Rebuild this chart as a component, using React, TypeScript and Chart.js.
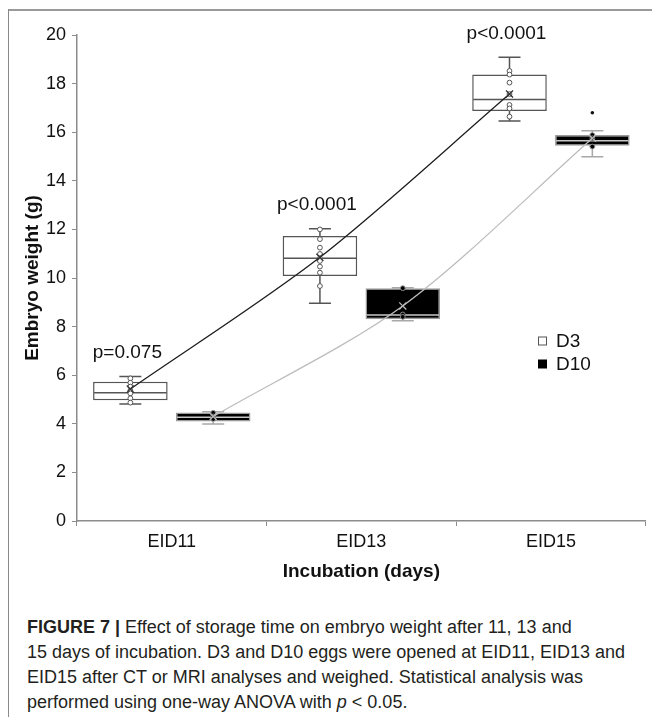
import React, { useEffect, useRef } from 'react';
import { Chart, registerables } from 'chart.js';
Chart.register(...registerables);

// ---------------- data ----------------
const categories = ['EID11', 'EID13', 'EID15'];
const seriesNames = ['D3', 'D10'];
const yMin = 0;
const yMax = 20;
const yStep = 2;

const d3Min = [4.81, 8.96, 16.46];
const d3Q1 = [4.97, 10.08, 16.87];
const d3Median = [5.28, 10.81, 17.35];
const d3Q3 = [5.73, 11.73, 18.37];
const d3Max = [5.95, 12.03, 19.08];
const d3Mean = [5.43, 10.85, 17.57];
const d3Points = [
  [5.87, 5.69, 5.53, 5.36, 5.25, 5.05, 4.87],
  [12.0, 11.6, 11.25, 10.99, 10.81, 10.7, 10.47, 10.22, 9.67],
  [18.52, 18.37, 18.04, 17.57, 17.12, 16.98, 16.64],
];

const d10Min = [3.99, 8.24, 14.99];
const d10Q1 = [4.09, 8.3, 15.44];
const d10Median = [4.27, 8.48, 15.65];
const d10Q3 = [4.46, 9.58, 15.88];
const d10Max = [4.5, 9.6, 16.06];
const d10Mean = [4.3, 8.85, 15.75];
const d10Points = [
  [4.45, 4.3, 4.2],
  [9.58, 8.5, 8.4],
  [15.88, 15.75, 15.41],
];
const d10Outliers = [[], [], [16.8]];

const pLabels = ['p=0.075', 'p<0.0001', 'p<0.0001'];

const captionLines = [
  'Effect of storage time on embryo weight after 11, 13 and',
  '15 days of incubation. D3 and D10 eggs were opened at EID11, EID13 and',
  'EID15 after CT or MRI analyses and weighed. Statistical analysis was',
  'performed using one-way ANOVA with ',
];

// ---------------- style ----------------
const FONT = "'Liberation Sans', Arial, sans-serif";
const GROUP_OFF = 0.2185; // half-distance between the D3 and D10 boxes, in category units
const AXIS_COLOR = '#8c8c8c';

const pts = (arr: number[][], off: number) =>
  arr.flatMap((vals, i) => vals.map((v) => ({ x: i + off, y: v })));
const boxes = (q1: number[], q3: number[], off: number) =>
  q1.map((q, i) => ({ x: i + off, y: [q, q3[i]] }));

const boxPlugin = {
  id: 'boxExtras',
  afterDatasetDraw(chart: any, args: any) {
    const ds = chart.data.datasets[args.index] as any;
    if (!ds.stats) return;
    const y = chart.scales.y;
    const ctx = chart.ctx;
    const cap = 22;
    ctx.save();
    args.meta.data.forEach((bar: any, i: number) => {
      const x = bar.x;
      const w = bar.width;
      const pMin = y.getPixelForValue(ds.stats.min[i]);
      const pMax = y.getPixelForValue(ds.stats.max[i]);
      const pQ1 = y.getPixelForValue(ds.stats.q1[i]);
      const pQ3 = y.getPixelForValue(ds.stats.q3[i]);
      const pMed = y.getPixelForValue(ds.stats.median[i]);
      ctx.strokeStyle = ds.whiskerColor;
      ctx.lineWidth = 1.5;
      ctx.beginPath();
      ctx.moveTo(x, pQ3);
      ctx.lineTo(x, pMax);
      ctx.moveTo(x - cap / 2, pMax);
      ctx.lineTo(x + cap / 2, pMax);
      ctx.moveTo(x, pQ1);
      ctx.lineTo(x, pMin);
      ctx.moveTo(x - cap / 2, pMin);
      ctx.lineTo(x + cap / 2, pMin);
      ctx.stroke();
      ctx.strokeStyle = ds.medianColor;
      ctx.beginPath();
      ctx.moveTo(x - w / 2 + 1, pMed);
      ctx.lineTo(x + w / 2 - 1, pMed);
      ctx.stroke();
    });
    ctx.restore();
  },
};

const overlayPlugin = {
  id: 'overlay',
  afterDraw(chart: any) {
    const ctx = chart.ctx;
    const y = chart.scales.y;
    const meta = chart.getDatasetMeta(0);
    ctx.save();
    ctx.fillStyle = '#111';
    ctx.font = `19px ${FONT}`;
    ctx.textAlign = 'center';
    ctx.textBaseline = 'middle';
    meta.data.forEach((bar: any, i: number) => {
      ctx.fillText(pLabels[i], bar.x - 3, y.getPixelForValue(d3Max[i]) - 24);
    });
    // legend
    const lx = 538;
    const ly = [341, 364];
    ctx.textAlign = 'left';
    seriesNames.forEach((name, k) => {
      ctx.lineWidth = 1;
      if (k === 0) {
        ctx.fillStyle = '#fff';
        ctx.strokeStyle = '#555';
        ctx.fillRect(lx, ly[k] - 4.5, 9, 9);
        ctx.strokeRect(lx + 0.5, ly[k] - 4, 8, 8);
      } else {
        ctx.fillStyle = '#000';
        ctx.fillRect(lx, ly[k] - 4.5, 9, 9);
      }
      ctx.fillStyle = '#111';
      ctx.fillText(name, lx + 18, ly[k] + 1);
    });
    ctx.restore();
  },
};

function BoxChart() {
  const ref = useRef<HTMLCanvasElement | null>(null);
  useEffect(() => {
    if (!ref.current) return;
    const chart = new Chart(ref.current, {
      type: 'bar',
      data: {
        labels: categories,
        datasets: [
          {
            type: 'bar',
            label: seriesNames[0],
            xAxisID: 'xl',
            data: boxes(d3Q1, d3Q3, -GROUP_OFF),
            backgroundColor: '#ffffff',
            borderColor: '#555555',
            borderWidth: 1.5,
            borderSkipped: false,
            grouped: false,
            barPercentage: 0.9,
            categoryPercentage: 1,
            order: 10,
            stats: { min: d3Min, q1: d3Q1, median: d3Median, q3: d3Q3, max: d3Max },
            whiskerColor: '#555555',
            medianColor: '#555555',
          } as any,
          {
            type: 'bar',
            label: seriesNames[1],
            xAxisID: 'xl',
            data: boxes(d10Q1, d10Q3, GROUP_OFF),
            backgroundColor: '#000000',
            borderColor: '#9a9a9a',
            borderWidth: 1.5,
            borderSkipped: false,
            grouped: false,
            barPercentage: 0.9,
            categoryPercentage: 1,
            order: 10,
            stats: { min: d10Min, q1: d10Q1, median: d10Median, q3: d10Q3, max: d10Max },
            whiskerColor: '#a8a8a8',
            medianColor: '#c8c8c8',
          } as any,
          {
            type: 'line',
            label: 'D3 points',
            xAxisID: 'xl',
            data: pts(d3Points, -GROUP_OFF),
            showLine: false,
            pointStyle: 'circle',
            pointRadius: 2.4,
            pointBackgroundColor: '#ffffff',
            pointBorderColor: '#555555',
            pointBorderWidth: 1,
            order: 5,
          } as any,
          {
            type: 'line',
            label: 'D10 points',
            xAxisID: 'xl',
            data: pts(d10Points, GROUP_OFF),
            showLine: false,
            pointStyle: 'circle',
            pointRadius: 2.4,
            pointBackgroundColor: '#000000',
            pointBorderColor: '#8a8a8a',
            pointBorderWidth: 1,
            order: 5,
          } as any,
          {
            type: 'line',
            label: 'D10 outliers',
            xAxisID: 'xl',
            data: pts(d10Outliers, GROUP_OFF),
            showLine: false,
            pointStyle: 'circle',
            pointRadius: 1.8,
            pointBackgroundColor: '#111111',
            pointBorderColor: '#111111',
            pointBorderWidth: 0,
            order: 5,
          } as any,
          {
            type: 'line',
            label: 'D3 mean',
            xAxisID: 'xl',
            data: d3Mean.map((v, i) => ({ x: i - GROUP_OFF, y: v })),
            borderColor: '#1e1e1e',
            borderWidth: 1.3,
            tension: 0.3,
            pointStyle: 'crossRot',
            pointRadius: 5,
            pointBorderColor: '#333333',
            pointBorderWidth: 1.3,
            order: 1,
          } as any,
          {
            type: 'line',
            label: 'D10 mean',
            xAxisID: 'xl',
            data: d10Mean.map((v, i) => ({ x: i + GROUP_OFF, y: v })),
            borderColor: '#bdbdbd',
            borderWidth: 1.3,
            tension: 0.3,
            pointStyle: 'crossRot',
            pointRadius: 5,
            pointBorderColor: '#b5b5b5',
            pointBorderWidth: 1.3,
            order: 1,
          } as any,
        ],
      },
      options: {
        responsive: false,
        animation: false,
        devicePixelRatio: 1,
        layout: { padding: { top: 35, right: 5, left: 0, bottom: 0 } },
        plugins: {
          legend: { display: false },
          tooltip: { enabled: false },
        },
        scales: {
          x: {
            type: 'category',
            offset: true,
            grid: {
              offset: true,
              drawOnChartArea: false,
              drawTicks: true,
              tickLength: 5,
              color: AXIS_COLOR,
            },
            border: { display: true, color: AXIS_COLOR, width: 1.5 },
            ticks: { color: '#111', font: { family: FONT, size: 18 }, padding: 5 },
            title: {
              display: true,
              text: 'Incubation (days)',
              color: '#111',
              font: { family: FONT, size: 19, weight: 'bold' },
              padding: { top: 0, bottom: 17 },
            },
            afterFit: (s: any) => {
              s.height = 79;
            },
          },
          xl: {
            type: 'linear',
            min: -0.5,
            max: 2.5,
            offset: false,
            display: false,
            grid: { offset: false },
          },
          y: {
            min: yMin,
            max: yMax,
            ticks: {
              stepSize: yStep,
              color: '#111',
              font: { family: FONT, size: 18 },
              padding: 6,
            },
            grid: {
              drawOnChartArea: false,
              drawTicks: true,
              tickLength: 5,
              color: AXIS_COLOR,
            },
            border: { display: true, color: AXIS_COLOR, width: 1.5 },
            title: {
              display: true,
              text: 'Embryo weight (g)',
              color: '#111',
              font: { family: FONT, size: 19, weight: 'bold' },
              padding: { top: 21, bottom: 0 },
            },
            afterFit: (s: any) => {
              s.width = 77;
            },
          },
        } as any,
      },
      plugins: [boxPlugin, overlayPlugin],
    });
    return () => chart.destroy();
  }, []);
  return (
    <canvas
      ref={ref}
      width={652}
      height={600}
      style={{ position: 'absolute', left: 0, top: 0, width: 652, height: 600 }}
    />
  );
}

export default function App() {
  return (
    <div
      style={{
        position: 'absolute',
        left: 0,
        top: 0,
        width: 652,
        height: 717,
        background: '#fff',
        overflow: 'hidden',
        fontFamily: FONT,
      }}
    >
      <BoxChart />
      <div
        style={{
          position: 'absolute',
          left: 9,
          top: 9,
          width: 643,
          height: 0,
          borderTop: '2px solid #9a9a9a',
        }}
      />
      <div
        style={{
          position: 'absolute',
          left: 8,
          top: 9,
          width: 0,
          height: 708,
          borderLeft: '1px solid #8a8a8a',
        }}
      />
      <div
        style={{
          position: 'absolute',
          left: 27,
          top: 615,
          fontSize: 18,
          lineHeight: '25px',
          color: '#231f20',
          whiteSpace: 'nowrap',
        }}
      >
        <div>
          <b>FIGURE 7 |</b> {captionLines[0]}
        </div>
        <div>{captionLines[1]}</div>
        <div>{captionLines[2]}</div>
        <div>
          {captionLines[3]}
          <i>p</i> &lt; 0.05.
        </div>
      </div>
    </div>
  );
}
